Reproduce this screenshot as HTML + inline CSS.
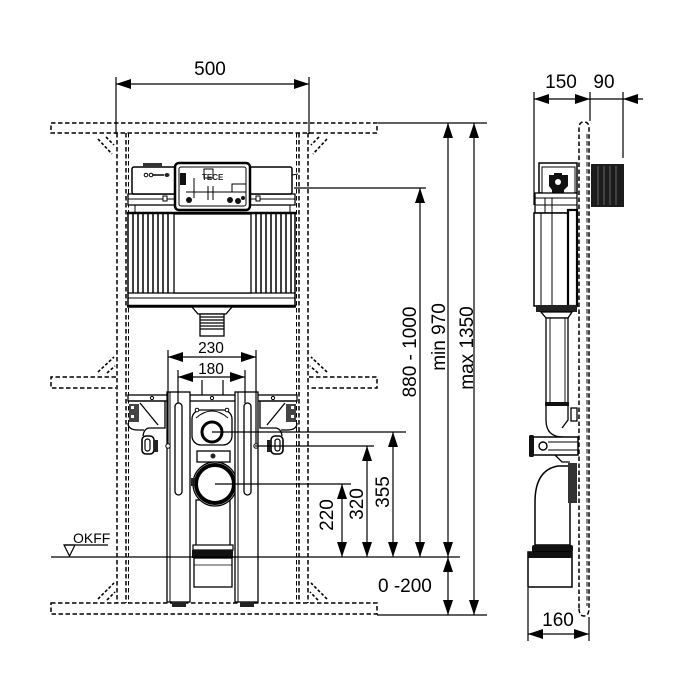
<!DOCTYPE html>
<html><head><meta charset="utf-8"><style>
html,body{margin:0;padding:0;background:#fff;}
svg{display:block;}
text{font-family:"Liberation Sans",Arial,sans-serif;fill:#000;}
</style></head><body>
<svg width="700" height="700" viewBox="0 0 700 700" xmlns="http://www.w3.org/2000/svg">
<defs>
<marker id="ar" viewBox="0 0 15 10" refX="15" refY="5" markerWidth="15" markerHeight="10" markerUnits="userSpaceOnUse" orient="auto-start-reverse"><path d="M0,0 L15,5 L0,10 z" fill="#000"/></marker>
</defs>
<rect width="700" height="700" fill="#fff"/>

<!-- ===== FRONT VIEW: dashed wall construction ===== -->
<g fill="none" stroke="#000" stroke-width="1.5" stroke-dasharray="4.5 2.5">
  <rect x="51" y="123" width="326" height="10"/>
  <path d="M116,377 H51 V388 H116"/>
  <path d="M309,377 H377 V388 H309"/>
  <rect x="51" y="603" width="326" height="11"/>
  <line x1="117" y1="133" x2="117" y2="603"/>
  <line x1="126" y1="133" x2="126" y2="603"/>
  <line x1="128.5" y1="133" x2="128.5" y2="603" stroke-width="1"/>
  <line x1="296.5" y1="133" x2="296.5" y2="603" stroke-width="1"/>
  <line x1="299" y1="133" x2="299" y2="603"/>
  <line x1="308" y1="133" x2="308" y2="603"/>
</g>
<g fill="none" stroke="#000" stroke-width="1.6" stroke-dasharray="3 2">
  <!-- braces -->
  <path d="M98,139 L112,154"/><path d="M106,137 L114,145"/>
  <path d="M327,139 L313,154"/><path d="M319,137 L311,145"/>
  <path d="M98,372 L114,357"/><path d="M107,373 L115,366"/>
  <path d="M327,372 L311,357"/><path d="M318,373 L310,366"/>
  <path d="M98,599 L114,583"/><path d="M107,600 L115,592"/>
  <path d="M327,599 L311,583"/><path d="M318,600 L310,592"/>
</g>

<!-- ===== CISTERN ===== -->
<g stroke="#000" fill="#fff">
  <rect x="128" y="194" width="167" height="11" stroke-width="1.3"/>
  <line x1="128" y1="199" x2="295" y2="199" stroke-width="1"/>
  <line x1="135" y1="205" x2="135" y2="213" stroke-width="1"/>
  <line x1="290" y1="205" x2="290" y2="213" stroke-width="1"/>
  <rect x="132" y="167" width="44" height="27" rx="2" stroke-width="1.5"/>
  <rect x="143" y="163" width="19" height="4" fill="#333" stroke="none"/>
  <circle cx="146" cy="175" r="1.8" stroke-width="1"/>
  <circle cx="151" cy="175" r="1.8" stroke-width="1"/>
  <line x1="153" y1="175" x2="164" y2="175" stroke-width="1.5"/>
  <ellipse cx="167" cy="175" rx="2.5" ry="2" fill="#222" stroke="none"/>
  <rect x="163" y="196" width="4" height="5" stroke-width="1"/>
  <rect x="250" y="167" width="42" height="27" rx="2" stroke-width="1.5"/>
  <line x1="292" y1="175" x2="298" y2="174" stroke-width="1"/>
  <rect x="256" y="196" width="4" height="5" stroke-width="1"/>
  <!-- control box -->
  <rect x="175" y="163" width="75" height="47" rx="4" stroke-width="2.5"/>
  <rect x="179" y="167" width="67" height="39" rx="2" stroke-width="1"/>
  <rect x="180" y="173" width="6" height="12" fill="#111" stroke="none"/>
  <rect x="204" y="169" width="9" height="9" stroke-width="1"/>
  <line x1="194" y1="178" x2="194" y2="198" stroke-width="1"/>
  <line x1="208" y1="186" x2="208" y2="200" stroke-width="1"/>
  <line x1="213" y1="186" x2="213" y2="200" stroke-width="1"/>
  <line x1="186" y1="192" x2="240" y2="192" stroke-width="1"/>
  <rect x="232" y="184" width="14" height="8" stroke-width="1"/>
  <circle cx="189" cy="200" r="3" fill="#111" stroke="none"/>
  <circle cx="230" cy="200" r="3" fill="#111" stroke="none"/>
  <circle cx="238" cy="201" r="3" fill="#111" stroke="none"/>
  <circle cx="243" cy="198" r="2" fill="#111" stroke="none"/>
  <!-- tank -->
  <rect x="128" y="213" width="167" height="94" stroke-width="1.5"/>
  <line x1="127" y1="213" x2="296" y2="213" stroke-width="2.5"/>
  <line x1="128" y1="293" x2="295" y2="293" stroke-width="1.2"/>
  <line x1="128" y1="298" x2="295" y2="298" stroke-width="1"/>
  <line x1="127" y1="306" x2="296" y2="306" stroke-width="2.5"/>
  <g stroke-width="1.5">
    <line x1="133" y1="214" x2="133" y2="293"/><line x1="138" y1="214" x2="138" y2="293"/>
    <line x1="143" y1="214" x2="143" y2="293"/><line x1="148" y1="214" x2="148" y2="293"/>
    <line x1="153" y1="214" x2="153" y2="293"/><line x1="158" y1="214" x2="158" y2="293"/>
    <line x1="163" y1="214" x2="163" y2="293"/><line x1="168" y1="214" x2="168" y2="293"/>
    <line x1="256" y1="214" x2="256" y2="293"/><line x1="261" y1="214" x2="261" y2="293"/>
    <line x1="266" y1="214" x2="266" y2="293"/><line x1="271" y1="214" x2="271" y2="293"/>
    <line x1="276" y1="214" x2="276" y2="293"/><line x1="281" y1="214" x2="281" y2="293"/>
    <line x1="286" y1="214" x2="286" y2="293"/><line x1="291" y1="214" x2="291" y2="293"/>
  </g>
  <rect x="174" y="214" width="77" height="79" stroke-width="1.3"/>
  <!-- outlet pipe -->
  <path d="M192,307 H232 L226,314 H198 Z" stroke-width="1.3"/>
  <rect x="200" y="314" width="24" height="22" stroke-width="1.3"/>
  <g stroke-width="1.3">
    <line x1="200" y1="317" x2="224" y2="317"/><line x1="200" y1="320" x2="224" y2="320"/>
    <line x1="200" y1="323" x2="224" y2="323"/><line x1="200" y1="326" x2="224" y2="326"/>
    <line x1="200" y1="329" x2="224" y2="329"/>
  </g>
</g>
<text x="202" y="180" font-size="8" font-weight="bold" style="fill:#222">TECE</text>

<!-- ===== FRAME ===== -->
<g stroke="#000" fill="#fff">
  <rect x="196" y="500" width="34" height="48" stroke-width="1.3"/>
  <rect x="128" y="395" width="169" height="6" stroke-width="1.3"/>
  <circle cx="152" cy="398" r="1.6" stroke-width="1"/>
  <circle cx="212" cy="398" r="1.6" stroke-width="1"/>
  <circle cx="273" cy="398" r="1.6" stroke-width="1"/>
  <path d="M128,401 H165 V428 H150 Q144,428 143,436" fill="none" stroke-width="1.3"/>
  <path d="M140,403 L158,425" fill="none" stroke-width="1.3"/>
  <path d="M128,423 Q128,430 138,430 H144" fill="none" stroke-width="1.3"/>
  <rect x="129" y="404" width="10" height="18" fill="#444" stroke="none"/>
  <rect x="131" y="406" width="3" height="3" fill="#fff" stroke="none"/>
  <rect x="131" y="415" width="3" height="3" fill="#fff" stroke="none"/>
  <rect x="142" y="436" width="12" height="18" rx="4" stroke-width="1.6"/>
  <rect x="145" y="439" width="5" height="12" rx="2.5" stroke-width="1.2"/>
  <rect x="154" y="440" width="4" height="12" fill="#222" stroke="none"/>
  <path d="M297,401 H260 V428 H275 Q281,428 282,436" fill="none" stroke-width="1.3"/>
  <path d="M285,403 L267,425" fill="none" stroke-width="1.3"/>
  <path d="M297,423 Q297,430 287,430 H281" fill="none" stroke-width="1.3"/>
  <rect x="286" y="404" width="10" height="18" fill="#444" stroke="none"/>
  <rect x="291" y="406" width="3" height="3" fill="#fff" stroke="none"/>
  <rect x="291" y="415" width="3" height="3" fill="#fff" stroke="none"/>
  <rect x="271" y="436" width="12" height="18" rx="4" stroke-width="1.6"/>
  <rect x="275" y="439" width="5" height="12" rx="2.5" stroke-width="1.2"/>
  <rect x="267" y="440" width="4" height="12" fill="#222" stroke="none"/>
  <rect x="192" y="410" width="40" height="35" rx="9" stroke-width="1.3"/>
  <path d="M196,418 Q212,404 228,418" fill="none" stroke-width="1"/>
  <circle cx="212" cy="432" r="10" stroke-width="3"/>
  <circle cx="197" cy="410" r="1.8" stroke-width="1"/>
  <circle cx="227" cy="410" r="1.8" stroke-width="1"/>
  <line x1="202" y1="380" x2="202" y2="395" stroke-width="1.2"/>
  <line x1="223" y1="380" x2="223" y2="395" stroke-width="1.2"/>
  <rect x="197" y="451" width="33" height="11" stroke-width="1.3"/>
  <circle cx="213" cy="456" r="2.5" fill="#222" stroke="none"/>
  <circle cx="215" cy="484" r="22" stroke-width="1.2"/>
  <circle cx="215" cy="484" r="19" stroke-width="4"/>
  <rect x="191" y="478" width="4" height="8" fill="#222" stroke="none"/>
  <rect x="235" y="478" width="4" height="8" fill="#222" stroke="none"/>
  <rect x="193" y="545" width="40" height="5" stroke-width="1.2"/>
  <rect x="192" y="550" width="41" height="8" fill="#111" stroke="none"/>
  <rect x="194" y="558" width="38" height="29" stroke-width="1.3"/>
  <line x1="194" y1="565" x2="232" y2="565" stroke-width="0.8"/>
  <rect x="167" y="392" width="23" height="210" stroke-width="1.3"/>
  <line x1="170" y1="392" x2="170" y2="602" stroke-width="1"/>
  <rect x="175" y="403" width="7" height="92" rx="3.5" stroke-width="1.3"/>
  <rect x="172" y="602" width="14" height="5" fill="#222" stroke="none"/>
  <rect x="235" y="392" width="23" height="210" stroke-width="1.3"/>
  <line x1="238" y1="392" x2="238" y2="602" stroke-width="1"/>
  <rect x="244" y="403" width="7" height="92" rx="3.5" stroke-width="1.3"/>
  <rect x="240" y="602" width="14" height="5" fill="#222" stroke="none"/>
  <circle cx="168" cy="446" r="2.2" stroke-width="1"/>
  <circle cx="256" cy="446" r="2.2" stroke-width="1"/>
</g>

<!-- ===== FRONT DIMENSIONS ===== -->
<g stroke="#000" stroke-width="1.2" fill="none">
  <line x1="116" y1="77" x2="116" y2="134"/>
  <line x1="309" y1="77" x2="309" y2="134"/>
  <line x1="116" y1="84" x2="309" y2="84" marker-start="url(#ar)" marker-end="url(#ar)"/>
  <line x1="168" y1="350" x2="168" y2="444"/>
  <line x1="256" y1="350" x2="256" y2="444"/>
  <line x1="168" y1="357" x2="256" y2="357" marker-start="url(#ar)" marker-end="url(#ar)"/>
  <line x1="178" y1="370" x2="178" y2="403"/>
  <line x1="245" y1="370" x2="245" y2="403"/>
  <line x1="178" y1="377" x2="245" y2="377" marker-start="url(#ar)" marker-end="url(#ar)"/>
  <line x1="378" y1="123" x2="487" y2="123"/>
  <line x1="294" y1="188" x2="426" y2="188"/>
  <line x1="212" y1="432" x2="406" y2="432"/>
  <line x1="255" y1="446" x2="374" y2="446"/>
  <line x1="215" y1="484" x2="351" y2="484"/>
  <line x1="51" y1="557" x2="460" y2="557"/>
  <line x1="377" y1="615" x2="487" y2="615"/>
  <line x1="342" y1="484" x2="342" y2="557" marker-start="url(#ar)" marker-end="url(#ar)"/>
  <line x1="367" y1="446" x2="367" y2="557" marker-start="url(#ar)" marker-end="url(#ar)"/>
  <line x1="393" y1="432" x2="393" y2="557" marker-start="url(#ar)" marker-end="url(#ar)"/>
  <line x1="420" y1="188" x2="420" y2="557" marker-start="url(#ar)" marker-end="url(#ar)"/>
  <line x1="448" y1="123" x2="448" y2="557" marker-start="url(#ar)" marker-end="url(#ar)"/>
  <line x1="474" y1="123" x2="474" y2="615" marker-start="url(#ar)" marker-end="url(#ar)"/>
  <line x1="448" y1="557" x2="448" y2="615" marker-start="url(#ar)" marker-end="url(#ar)"/>
  <line x1="64" y1="545" x2="108" y2="545"/>
  <path d="M64,545 L75,545 L69.5,556 Z"/>
</g>

<text x="210" y="75" font-size="19" text-anchor="middle">500</text>
<text x="211" y="353" font-size="15.5" text-anchor="middle">230</text>
<text x="211" y="374" font-size="15.5" text-anchor="middle">180</text>
<text x="73" y="543" font-size="14">OKFF</text>
<text x="378" y="592" font-size="19">0 -200</text>
<text transform="translate(326,515) rotate(-90)" y="7" font-size="19" text-anchor="middle">220</text>
<text transform="translate(356,504) rotate(-90)" y="7" font-size="19" text-anchor="middle">320</text>
<text transform="translate(382,492) rotate(-90)" y="7" font-size="19" text-anchor="middle">355</text>
<text transform="translate(409,352) rotate(-90)" y="7" font-size="19" text-anchor="middle">880 - 1000</text>
<text transform="translate(438,337) rotate(-90)" y="7" font-size="19" text-anchor="middle">min 970</text>
<text transform="translate(466,348) rotate(-90)" y="7" font-size="19" text-anchor="middle">max 1350</text>

<!-- ===== SIDE VIEW ===== -->
<g fill="none" stroke="#000" stroke-width="1.5" stroke-dasharray="4.5 2.5">
  <path d="M579,608 V128 Q579,122 584,122 Q589,122 589,128 V608 Q589,616 584,616 Q579,616 579,608"/>
  <line x1="587" y1="134" x2="587" y2="606" stroke-width="1"/>
</g>
<g stroke="#000" fill="#fff">
  <rect x="591" y="164" width="33" height="43" fill="#1c1c1c" stroke="none"/>
  <g stroke="#777" stroke-width="0.8">
    <line x1="598" y1="166" x2="598" y2="205"/><line x1="604" y1="166" x2="604" y2="205"/>
    <line x1="610" y1="166" x2="610" y2="205"/><line x1="616" y1="166" x2="616" y2="205"/>
  </g>
  <rect x="539" y="163" width="38" height="30" stroke-width="1.5"/>
  <rect x="542" y="167" width="33" height="26" stroke-width="1"/>
  <path d="M549,175 H554 V173 H562 V175 H568 V186 L564,190 V193 H552 V190 L549,186 Z" fill="#111" stroke="none"/>
  <circle cx="558" cy="182" r="3" fill="#fff" stroke="none"/>
  <rect x="535" y="193" width="42" height="20" stroke-width="1.3"/>
  <line x1="535" y1="198" x2="577" y2="198" stroke-width="1"/>
  <line x1="535" y1="205" x2="577" y2="205" stroke-width="1"/>
  <line x1="545" y1="198" x2="545" y2="213" stroke-width="1"/>
  <line x1="552" y1="198" x2="552" y2="213" stroke-width="1"/>
  <rect x="534" y="213" width="43" height="93" stroke-width="1.5"/>
  <line x1="541" y1="213" x2="541" y2="306" stroke-width="1"/>
  <line x1="552" y1="213" x2="552" y2="306" stroke-width="1"/>
  <rect x="568" y="210" width="9" height="96" stroke-width="2.2"/>
  <rect x="536" y="305" width="41" height="7" fill="#222" stroke="none"/>
  <path d="M541,312 H572 L568,318 H546 Z" stroke-width="1.3"/>
  <rect x="546" y="318" width="22" height="85" stroke-width="1.3"/>
  <line x1="550" y1="318" x2="550" y2="403" stroke-width="0.9"/>
  <line x1="565" y1="318" x2="565" y2="403" stroke-width="0.9"/>
  <rect x="545" y="402" width="24" height="4" fill="#111" stroke="none"/>
  <path d="M546,406 V420 Q546,437 563,437" fill="none" stroke-width="1.3"/>
  <path d="M568,406 V420 L562,428" fill="none" stroke-width="1.3"/>
  <rect x="571" y="408" width="6" height="13" stroke-width="1.3"/>
  <rect x="531" y="437" width="47" height="18" stroke-width="1.5"/>
  <line x1="548" y1="442" x2="578" y2="442" stroke-width="1"/>
  <line x1="548" y1="450" x2="578" y2="450" stroke-width="1"/>
  <rect x="529" y="435" width="5" height="22" rx="1.5" fill="#111" stroke="none"/>
  <circle cx="543" cy="446" r="4" stroke-width="1.4"/>
  <path d="M555,455 L562,462 H570" fill="none" stroke-width="1.3"/>
  <path d="M558,466 H570 V545 H535 V502 Q535,470 558,466 Z" stroke-width="1.5"/>
  <rect x="568" y="463" width="9" height="40" fill="#333" stroke="none"/>
  <rect x="532" y="545" width="41" height="7" rx="2" fill="#111" stroke="none"/>
  <rect x="528" y="552" width="44" height="35" stroke-width="1.5"/>
  <rect x="528" y="552" width="44" height="6" fill="#111" stroke="none"/>
</g>

<g stroke="#000" stroke-width="1.2" fill="none">
  <line x1="534" y1="92" x2="534" y2="205"/>
  <line x1="590" y1="92" x2="590" y2="121"/>
  <line x1="623" y1="92" x2="623" y2="158"/>
  <line x1="534" y1="99" x2="590" y2="99" marker-start="url(#ar)" marker-end="url(#ar)"/>
  <line x1="590" y1="99" x2="623" y2="99"/>
  <line x1="643" y1="99" x2="623" y2="99" marker-end="url(#ar)"/>
  <line x1="528" y1="588" x2="528" y2="641"/>
  <line x1="589" y1="617" x2="589" y2="641"/>
  <line x1="528" y1="634" x2="589" y2="634" marker-start="url(#ar)" marker-end="url(#ar)"/>
</g>
<text x="561" y="88" font-size="19" text-anchor="middle">150</text>
<text x="604" y="88" font-size="19" text-anchor="middle">90</text>
<text x="558" y="626" font-size="19" text-anchor="middle">160</text>
</svg>
</body></html>
